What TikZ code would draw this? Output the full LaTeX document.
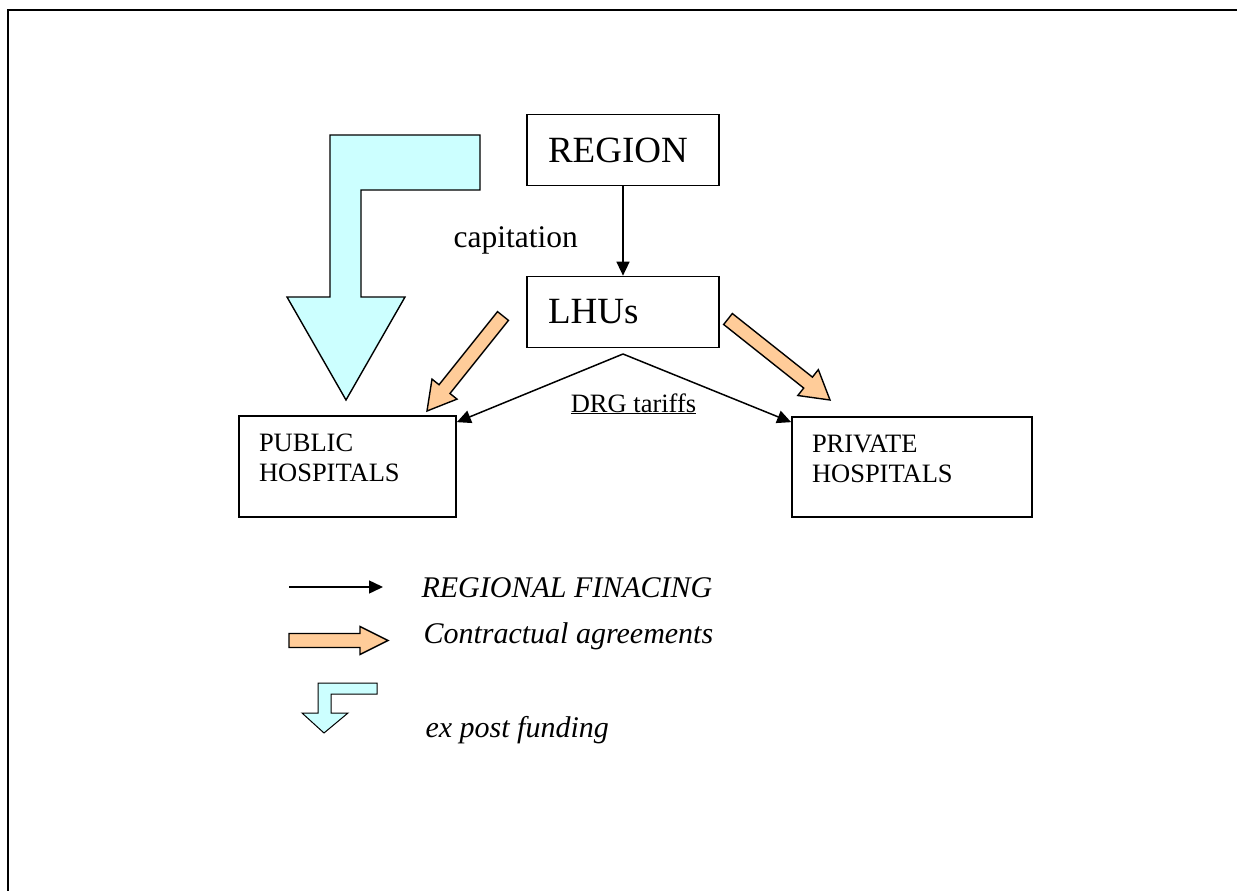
\documentclass[tikz,border=0pt]{standalone}
\usepackage{fontspec}
\setmainfont{Liberation Serif}
\usetikzlibrary{arrows.meta,calc,positioning}
\definecolor{peach}{HTML}{FFCC99}
\definecolor{paleblue}{HTML}{CCFFFF}

\newcommand{\fatarrow}[3]{%
  \coordinate (hb) at ($#2!28pt!#1$);
  \draw[contract] ($#1!7pt!90:#2$) -- ($(hb)!7pt!90:#2$) -- ($(hb)!#3!90:#2$) -- #2
    -- ($(hb)!#3!-90:#2$) -- ($(hb)!7pt!-90:#2$) -- ($#1!7pt!-90:#2$) -- cycle;
}

\begin{document}
\begin{tikzpicture}[x=1pt, y=-1pt,
    box/.style={draw, line width=1.7pt, text width=150pt, minimum height=71pt, inner xsep=21pt, align=left, font=\fontsize{37}{44}\selectfont},
    hosp/.style={draw, line width=1.7pt, inner xsep=20pt, align=left, font=\fontsize{26.5}{30}\selectfont},
    arr/.style={-{Triangle[length=14pt, width=13pt]}, line width=1.5pt},
    contract/.style={draw, line width=1.4pt, fill=peach, line join=miter},
    expost/.style={draw, line width=1.4pt, fill=paleblue},
    legend/.style={anchor=base west, font=\fontsize{30}{36}\selectfont\itshape}
]
\useasboundingbox (0,0) rectangle (1237,891);
\draw[line width=1.8pt] (8,891) -- (8,10) -- (1237,10);

\node[box] (region) at (623,150) {REGION};
\node[box] (lhus) at (623,312) {LHUs};
\node[hosp, text width=177pt, minimum height=101pt] (pub) at (347.5,466.5) {PUBLIC\\HOSPITALS\\[-13pt]\mbox{}};
\node[hosp, text width=200pt, minimum height=100pt] (priv) at (912,467) {PRIVATE\\HOSPITALS\\[-13pt]\mbox{}};
\node[anchor=base west, font=\fontsize{31.5}{36}\selectfont] (cap) at (450,247) {capitation};
\node[anchor=base, font=\fontsize{26.5}{30}\selectfont] (drg) at (633.5,412) {\underline{DRG tariffs}};

\coordinate (split) at (623,354);
\draw[arr] (region) -- (lhus);
\draw[arr] (split) -- ($(pub.north east)+(0,7)$);
\draw[arr] (split) -- ($(priv.north west)+(0,6)$);

\coordinate (pubtail) at (503,316);
\coordinate (pubtip) at (427,411);
\coordinate (privtail) at (728,319);
\coordinate (privtip) at (830,400);
\fatarrow{(pubtail)}{(pubtip)}{16pt}
\fatarrow{(privtail)}{(privtip)}{16.5pt}

\draw[expost] (330,135) -- (480,135) -- (480,190) -- (361,190) -- (361,297) -- (405,297) -- (346,400) -- (287,297) -- (330,297) -- cycle;

\coordinate (regfrom) at (289,587);
\coordinate (regto) at (383,587);
\draw[arr] (regfrom) -- (regto);
\node[legend] (regtxt) at (418,597) {REGIONAL FINACING};
\coordinate (contail) at (289,640.5);
\coordinate (contip) at (388,640.5);
\fatarrow{(contail)}{(contip)}{14pt}
\node[legend] (contxt) at (420,643) {Contractual agreements};
\draw[expost, line width=1pt] (318,683) -- (377,683) -- (377,694) -- (331,694) -- (331,713) -- (348,713) -- (324,733) -- (302,713) -- (318,713) -- cycle;
\node[legend] (exptxt) at (422,737) {ex post funding};
\end{tikzpicture}
\end{document}
